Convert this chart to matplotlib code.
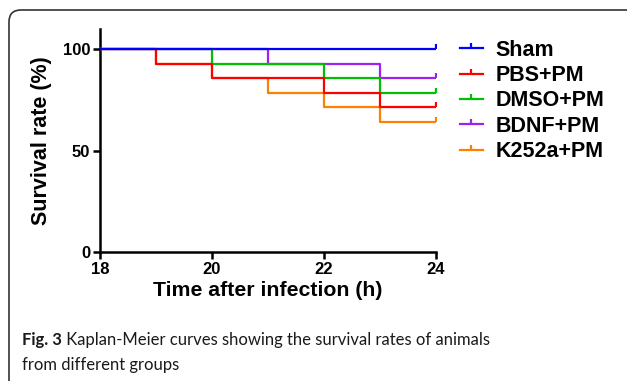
import matplotlib
matplotlib.use("Agg")
import matplotlib.pyplot as plt
import matplotlib.patches as patches
from matplotlib.path import Path
from matplotlib.lines import Line2D
from matplotlib.transforms import IdentityTransform

# survival data (time in h, survival in %)
groups = ["Sham", "PBS+PM", "DMSO+PM", "BDNF+PM", "K252a+PM"]
colors = ["#0000ff", "#ff0000", "#00c000", "#a020f0", "#ff8000"]
times = [18, 19, 20, 21, 22, 23, 24]
sham = [100, 100, 100, 100, 100, 100, 100]
pbs = [100, 92.9, 85.7, 85.7, 78.6, 71.4, 71.4]
dmso = [100, 100, 92.9, 92.9, 85.7, 78.6, 78.6]
bdnf = [100, 100, 100, 92.9, 92.9, 85.7, 85.7]
k252a = [100, 92.9, 85.7, 78.6, 71.4, 64.3, 64.3]
series = [sham, pbs, dmso, bdnf, k252a]

xticks = [18, 20, 22, 24]
yticks = [0, 50, 100]

plt.rcParams['font.family'] = ['Liberation Sans', 'DejaVu Sans']

fig = plt.figure(figsize=(6.27, 3.81), dpi=100)
ax = fig.add_axes([0.1595, 0.3386, 0.5359, 0.5853])

tick_up = Path([[0, 0], [0, 1]])

# draw in reverse so Sham ends on top
for name, col, vals in reversed(list(zip(groups, colors, series))):
    ax.step(times, vals, where='post', color=col, lw=1.6, label=name, zorder=3)
    ax.plot([times[-1]], [vals[-1]], marker=tick_up, ms=7, mew=1.6,
            color=col, ls='none', zorder=3)

# legend handles with censor tick in the middle
handles = [Line2D([0], [0], color=c, lw=1.6, marker=tick_up, ms=7, mew=1.6)
           for c in colors]
leg = ax.legend(handles, groups, loc='upper left', bbox_to_anchor=(1.045, 0.99),
                frameon=False, prop={'weight': 'bold', 'size': 15.5},
                handlelength=1.07, handletextpad=0.6, labelspacing=0.2,
                numpoints=1, borderaxespad=0)

ax.set_xlim(18, 24)
ax.set_ylim(0, 110)
ax.set_xticks(xticks)
ax.set_yticks(yticks)
ax.spines['top'].set_visible(False)
ax.spines['right'].set_visible(False)
for s in ['left', 'bottom']:
    ax.spines[s].set_linewidth(1.8)
ax.tick_params(width=1.8, length=5, labelsize=12, pad=2)
for lab in ax.get_xticklabels() + ax.get_yticklabels():
    lab.set_fontweight('bold')
ax.set_xlabel("Time after infection (h)", fontsize=15.3, fontweight='bold', labelpad=3)
ax.set_ylabel("Survival rate (%)", fontsize=15.5, fontweight='bold', labelpad=8)

# rounded frame around the figure panel
frame = patches.FancyBboxPatch((9, -30), 660, 401, boxstyle='round,pad=0,rounding_size=12',
                               transform=IdentityTransform(), fill=False,
                               edgecolor='#333333', lw=1.2)
fig.patches.append(frame)

# caption
cap_font = ['Lato', 'DejaVu Sans']
cap_col = '#1a1a1a'
t1 = fig.text(22 / 627, 1 - 345 / 381, "Fig. 3", fontsize=12, fontweight='bold',
              family=cap_font, va='baseline', color=cap_col)
ax.annotate(" Kaplan-Meier curves showing the survival rates of animals",
            xy=(1, 0), xycoords=t1, va='bottom', ha='left', fontsize=12,
            family=cap_font, color=cap_col, annotation_clip=False)
fig.text(22 / 627, 1 - 370 / 381, "from different groups", fontsize=12,
         family=cap_font, va='baseline', color=cap_col)

fig.savefig("out.png", dpi=100)
